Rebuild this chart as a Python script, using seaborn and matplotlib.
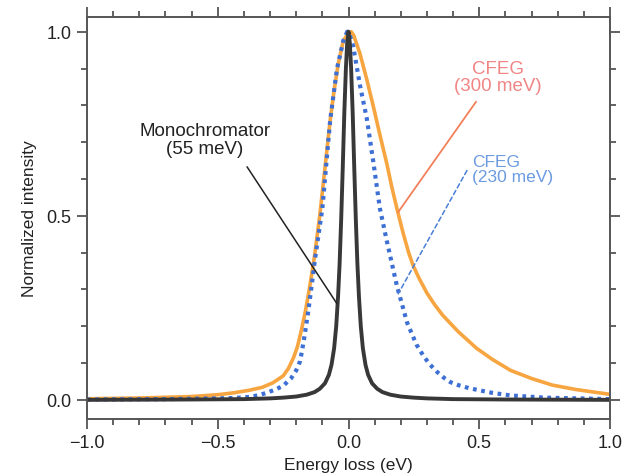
import matplotlib
matplotlib.use("Agg")
import matplotlib.pyplot as plt
import seaborn as sns
import pandas as pd
from matplotlib.ticker import MultipleLocator

# ---- data ----
cfeg300_x = [-1.0, -0.8, -0.6, -0.5, -0.44, -0.38, -0.33, -0.29, -0.25, -0.23, -0.21, -0.195,
             -0.18, -0.165, -0.15, -0.13, -0.11, -0.09, -0.07, -0.055, -0.04, -0.02, 0.0, 0.01,
             0.02, 0.044, 0.07, 0.094, 0.12, 0.147, 0.165, 0.185, 0.21, 0.23, 0.247, 0.27, 0.3,
             0.33, 0.36, 0.42, 0.49, 0.55, 0.62, 0.7, 0.78, 0.87, 1.0]
cfeg300_y = [0.003, 0.005, 0.009, 0.014, 0.019, 0.026, 0.034, 0.046, 0.065, 0.085, 0.115, 0.145,
             0.19, 0.24, 0.30, 0.39, 0.50, 0.63, 0.76, 0.84, 0.91, 0.975, 0.997, 1.0,
             0.99, 0.94, 0.87, 0.80, 0.72, 0.64, 0.58, 0.52, 0.45, 0.40, 0.365, 0.33, 0.29,
             0.258, 0.23, 0.185, 0.14, 0.11, 0.08, 0.058, 0.04, 0.028, 0.015]

cfeg230_x = [-1.0, -0.7, -0.5, -0.44, -0.38, -0.34, -0.31, -0.28, -0.25, -0.22, -0.2, -0.185,
             -0.17, -0.154, -0.14, -0.128, -0.10, -0.07, -0.044, -0.02, -0.005, 0.005, 0.018,
             0.044, 0.07, 0.095, 0.12, 0.147, 0.185, 0.224, 0.26, 0.286, 0.31, 0.34, 0.365,
             0.39, 0.42, 0.46, 0.5, 0.55, 0.62, 0.75, 1.0]
cfeg230_y = [0.001, 0.002, 0.004, 0.005, 0.008, 0.013, 0.02, 0.028, 0.038, 0.058, 0.08, 0.105,
             0.165, 0.24, 0.315, 0.383, 0.52, 0.76, 0.90, 0.975, 1.0, 0.99, 0.96,
             0.854, 0.764, 0.646, 0.52, 0.43, 0.31, 0.21, 0.15, 0.12, 0.097, 0.075, 0.06,
             0.048, 0.04, 0.032, 0.026, 0.019, 0.012, 0.006, 0.002]

mono_x = [-1.0, -0.6, -0.4, -0.3, -0.25, -0.2, -0.16, -0.13, -0.11, -0.09, -0.075, -0.065,
          -0.055, -0.047, -0.04, -0.034, -0.028, -0.022, -0.016, -0.01, -0.005, 0.0,
          0.005, 0.01, 0.016, 0.022, 0.028, 0.034, 0.04, 0.047, 0.055, 0.065, 0.075, 0.09,
          0.11, 0.13, 0.16, 0.2, 0.25, 0.3, 0.4, 0.6, 1.0]
mono_y = [0.0, 0.001, 0.002, 0.004, 0.006, 0.009, 0.014, 0.021, 0.03, 0.045, 0.068, 0.095,
          0.14, 0.2, 0.28, 0.37, 0.49, 0.63, 0.78, 0.9, 0.97, 1.0,
          0.97, 0.9, 0.78, 0.63, 0.49, 0.37, 0.28, 0.2, 0.14, 0.095, 0.068, 0.045,
          0.03, 0.021, 0.014, 0.009, 0.006, 0.004, 0.002, 0.001, 0.0]

x_ticks = [-1.0, -0.5, 0.0, 0.5, 1.0]
x_tick_labels = ["\u22121.0", "\u22120.5", "0.0", "0.5", "1.0"]
y_ticks = [0.0, 0.5, 1.0]
y_tick_labels = ["0.0", "0.5", "1.0"]

sns.set_style("ticks")
plt.rcParams["font.family"] = ["Liberation Sans", "DejaVu Sans"]

fig = plt.figure(figsize=(6.31, 4.77), dpi=100)
ax = fig.add_axes([0.1379, 0.1195, 0.8288, 0.8428])

df300 = pd.DataFrame({"x": cfeg300_x, "y": cfeg300_y})
df230 = pd.DataFrame({"x": cfeg230_x, "y": cfeg230_y})
dfm = pd.DataFrame({"x": mono_x, "y": mono_y})

sns.lineplot(data=df300, x="x", y="y", ax=ax, color="#f7a540", lw=2.6, sort=False)
sns.lineplot(data=df230, x="x", y="y", ax=ax, color="#3d6fd4", lw=3.0, sort=False,
             linestyle=(0, (0.9, 1.1)))
sns.lineplot(data=dfm, x="x", y="y", ax=ax, color="#383838", lw=2.8, sort=False)

ax.set_xlim(-1.0, 1.0)
ax.set_ylim(-0.052, 1.04)
ax.set_xticks(x_ticks)
ax.set_yticks(y_ticks)
ax.set_xticklabels(x_tick_labels)
ax.set_yticklabels(y_tick_labels)
ax.xaxis.set_minor_locator(MultipleLocator(0.1))
ax.yaxis.set_minor_locator(MultipleLocator(0.1))
ax.tick_params(which="both", direction="out", top=True, right=True, color="#555555",
               width=1.3, labelsize=13, labelcolor="#222222")
ax.tick_params(which="major", length=7, pad=4)
ax.tick_params(which="minor", length=4)
for s in ax.spines.values():
    s.set_color("#555555")
    s.set_linewidth(1.4)

ax.set_xlabel("Energy loss (eV)", fontsize=12.5, color="#222222", labelpad=4)
ax.set_ylabel("Normalized intensity", fontsize=12.5, color="#222222", labelpad=7)

# labels
ax.text(-0.549, 0.707, "Monochromator\n(55 meV)", ha="center", va="center",
        fontsize=13.5, color="#222222", linespacing=1.05)
ax.text(0.572, 0.878, "CFEG\n(300 meV)", ha="center", va="center",
        fontsize=13.5, color="#f08585", linespacing=1.0)
ax.text(0.473, 0.628, "CFEG\n(230 meV)", ha="left", va="center",
        fontsize=12.5, color="#6b9be0", linespacing=1.0)

# leader lines
ax.annotate("", xy=(-0.044, 0.261), xytext=(-0.388, 0.633),
            arrowprops=dict(arrowstyle="-", color="#222222", lw=1.1, shrinkA=0, shrinkB=0))
ax.annotate("", xy=(0.19, 0.51), xytext=(0.488, 0.81),
            arrowprops=dict(arrowstyle="-", color="#f2805a", lw=1.3, shrinkA=0, shrinkB=0))
ax.annotate("", xy=(0.19, 0.288), xytext=(0.453, 0.623),
            arrowprops=dict(arrowstyle="-", color="#4a7fd8", lw=1.1, linestyle=(0, (3, 2)),
                            shrinkA=0, shrinkB=0))

fig.savefig("out.png", dpi=100)
